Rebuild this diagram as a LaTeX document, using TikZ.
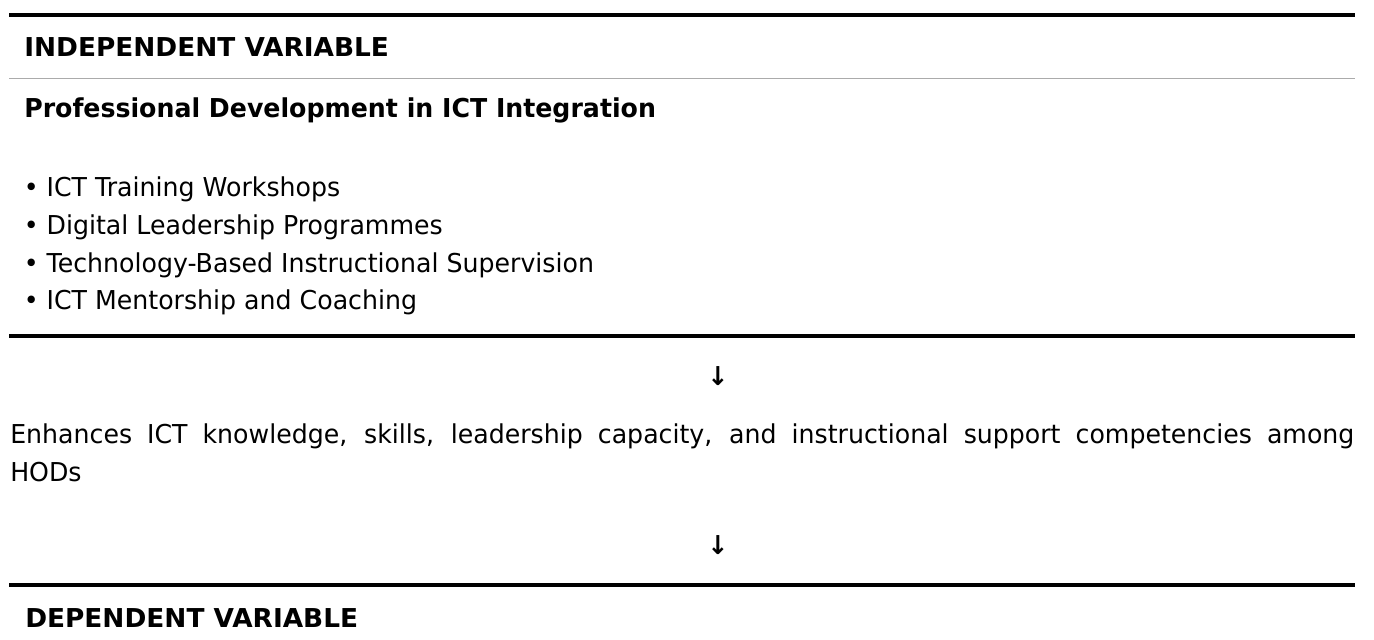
\documentclass[tikz,border=0pt]{standalone}
\usepackage{fontspec}
\setmainfont{DejaVu Sans}[FakeStretch=0.97]
\newfontfamily\capsfont{DejaVu Sans}[FakeStretch=1.014]
\begin{document}
\begin{tikzpicture}[x=0.75pt,y=-0.75pt,
    rule/.style={line width=2.6pt,black},
    thinrule/.style={line width=0.8pt,black!33},
    heading/.style={anchor=base west,inner sep=0pt,font=\fontsize{19.5}{28.5}\selectfont\capsfont\bfseries},
    subheading/.style={anchor=base west,inner sep=0pt,font=\fontsize{19.5}{28.5}\selectfont\bfseries},
    item/.style={anchor=base west,inner sep=0pt,font=\fontsize{19.5}{28.5}\selectfont},
    flow/.style={inner sep=0pt,font=\fontsize{19.5}{28.5}\selectfont\bfseries}]
  \useasboundingbox[fill=white] (0,0) rectangle (1374,639);
  % independent variable
  \draw[rule] (9,15) -- (1355,15);
  \node[heading] (iv) at (24,56) {INDEPENDENT VARIABLE};
  \draw[thinrule] (9,78.5) -- (1355,78.5);
  \node[subheading] (pd) at (24,117) {Professional Development in ICT Integration};
  \foreach \txt [count=\i] in {ICT Training Workshops, Digital Leadership Programmes,
      Technology-Based Instructional Supervision, ICT Mentorship and Coaching}
    \node[item] (item\i) at (23.5,{196.5+37.8*(\i-1)}) {• \txt};
  \draw[rule] (9,336) -- (1355,336);
  % effect on HODs
  \node[flow] (arr1) at (718,376.5) {↓};
  \node[item,text width=1008pt,align=justify] (effect) at (10,443)
    {Enhances ICT knowledge, skills, leadership capacity, and instructional support competencies among\linebreak HODs};
  \node[flow] (arr2) at (718,545) {↓};
  \draw[rule] (9,585) -- (1355,585);
  % dependent variable
  \node[heading] (dv) at (25,627) {DEPENDENT VARIABLE};
\end{tikzpicture}
\end{document}
